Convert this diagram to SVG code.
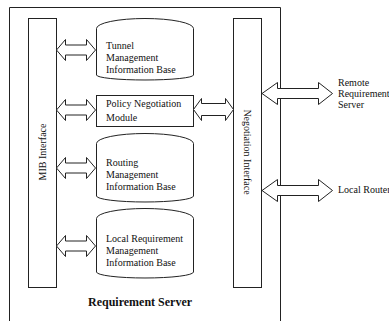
<svg xmlns="http://www.w3.org/2000/svg" width="389" height="321" viewBox="0 0 389 321">
  <style>
    .ln { fill: #fff; stroke: #222; stroke-width: 1; }
    .frame { fill: none; stroke: #222; stroke-width: 1; }
    .arr { fill: #fff; stroke: #222; stroke-width: 1; stroke-linejoin: miter; }
    text { font-family: "Liberation Serif", "Times New Roman", serif; font-size: 10px; fill: #111; }
    .title { font-weight: bold; font-size: 12px; }
  </style>
  <rect width="389" height="321" fill="#fff"/>

  <!-- server boundary (open at the bottom) -->
  <g id="requirement-server">
    <path class="frame" d="M9.5,321 V7.5 H280.5 V321"/>
    <text class="title" x="88" y="306">Requirement Server</text>
  </g>

  <g id="mib-interface">
    <rect class="ln" x="28.5" y="18.5" width="28" height="269"/>
    <text transform="translate(45.5,152) rotate(-90)" text-anchor="middle">MIB Interface</text>
  </g>

  <g id="negotiation-interface">
    <rect class="ln" x="233.5" y="18.5" width="28" height="269"/>
    <text transform="translate(244,152) rotate(90)" text-anchor="middle">Negotiation Interface</text>
  </g>

  <g id="tunnel-mib">
    <path class="ln" d="M96.5,28.5 A48.5,10 0 0 1 193.5,28.5 V75 A48.5,5 0 0 1 96.5,75 Z"/>
    <text x="106" y="49">Tunnel</text>
    <text x="106" y="61">Management</text>
    <text x="106" y="73">Information Base</text>
  </g>

  <g id="policy-negotiation-module">
    <rect class="ln" x="96.5" y="95.5" width="97" height="31"/>
    <text x="106" y="107">Policy Negotiation</text>
    <text x="106" y="121">Module</text>
  </g>

  <g id="routing-mib">
    <path class="ln" d="M96.5,143.5 A48.5,10 0 0 1 193.5,143.5 V196 A48.5,6 0 0 1 96.5,196 Z"/>
    <text x="106" y="166">Routing</text>
    <text x="106" y="178">Management</text>
    <text x="106" y="190">Information Base</text>
  </g>

  <g id="local-requirement-mib">
    <path class="ln" d="M96.5,218.5 A48.5,10 0 0 1 193.5,218.5 V272 A48.5,6 0 0 1 96.5,272 Z"/>
    <text x="106" y="242">Local Requirement</text>
    <text x="106" y="254">Management</text>
    <text x="106" y="266">Information Base</text>
  </g>

  <g id="remote-requirement-server">
    <text x="338" y="86">Remote</text>
    <text x="338" y="97">Requirement</text>
    <text x="338" y="108">Server</text>
  </g>

  <g id="local-router">
    <text x="338" y="193">Local Router</text>
  </g>

  <!-- double-headed block arrows -->
  <g id="connectors">
    <path class="arr" d="M56.5,50 L65.5,39.5 V45 H86.5 V39.5 L95.5,50 L86.5,60.5 V55 H65.5 V60.5 Z"/>
    <path class="arr" d="M56.5,110 L65.5,99.5 V105 H86.5 V99.5 L95.5,110 L86.5,120.5 V115 H65.5 V120.5 Z"/>
    <path class="arr" d="M56.5,168 L65.5,157.5 V163 H86.5 V157.5 L95.5,168 L86.5,178.5 V173 H65.5 V178.5 Z"/>
    <path class="arr" d="M56.5,246 L65.5,235.5 V241 H86.5 V235.5 L95.5,246 L86.5,256.5 V251 H65.5 V256.5 Z"/>
    <path class="arr" d="M193.5,109.5 L201.5,98.5 V103.5 H225.5 V98.5 L233.5,109.5 L225.5,120.5 V115.5 H201.5 V120.5 Z"/>
    <path class="arr" d="M262,93.5 L277.5,82.5 V88.5 H318.5 V82.5 L332.5,93.5 L318.5,104.5 V98.5 H277.5 V104.5 Z"/>
    <path class="arr" d="M262,190.5 L277.5,179.5 V185.5 H318.5 V179.5 L332.5,190.5 L318.5,201.5 V195.5 H277.5 V201.5 Z"/>
  </g>
</svg>
